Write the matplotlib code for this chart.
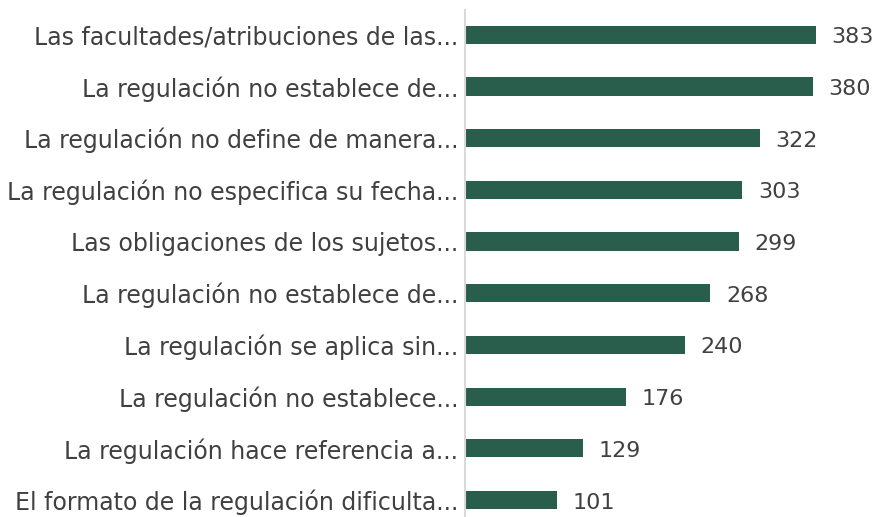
import matplotlib
matplotlib.use("Agg")
import matplotlib.pyplot as plt

# values, top to bottom
labels = [
    "Las facultades/atribuciones de las...",
    "La regulación no establece de...",
    "La regulación no define de manera...",
    "La regulación no especifica su fecha...",
    "Las obligaciones de los sujetos...",
    "La regulación no establece de...",
    "La regulación se aplica sin...",
    "La regulación no establece...",
    "La regulación hace referencia a...",
    "El formato de la regulación dificulta...",
]
counts = [383, 380, 322, 303, 299, 268, 240, 176, 129, 101]

bar_color = "#2a5e4c"
text_color = "#404040"
plt.rcParams["font.family"] = ["DejaVu Sans"]

fig = plt.figure(figsize=(8.76, 5.17), dpi=100)
ax = fig.add_axes([465 / 876, 0, 411 / 876, 507 / 517])

ypos = list(range(len(labels)))[::-1]
ax.barh(ypos, counts, height=0.35, color=bar_color)
for y, v in zip(ypos, counts):
    ax.text(v + 17, y - 0.05, str(v), va="center", ha="left", fontsize=16, color=text_color)

ax.set_yticks(ypos)
ax.set_yticklabels(labels, fontsize=17, color=text_color)
ax.tick_params(axis="y", length=0, pad=5)
ax.set_xticks([])
ax.set_xlim(0, 449)
ax.set_ylim(-0.33, 9.48)
for side in ["top", "right", "bottom"]:
    ax.spines[side].set_visible(False)
ax.spines["left"].set_color("#d9d9d9")
ax.spines["left"].set_linewidth(1.5)

fig.savefig("out.png", dpi=100)
